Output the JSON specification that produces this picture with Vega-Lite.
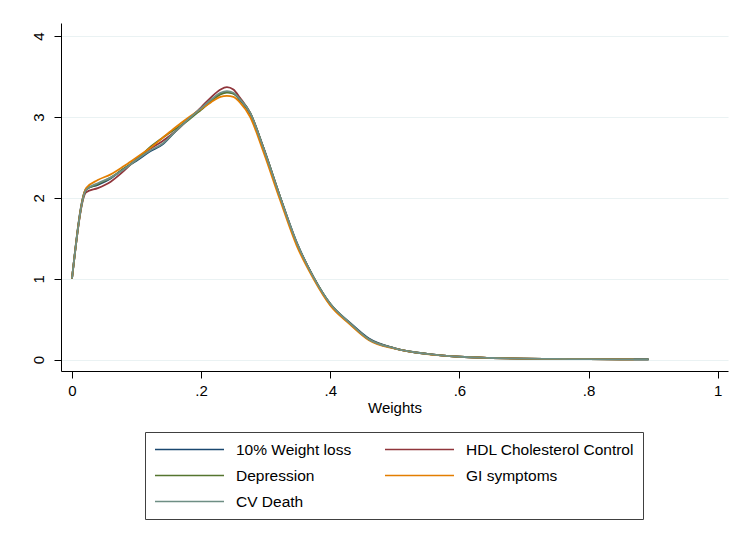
{
  "$schema": "https://vega.github.io/schema/vega-lite/v6.json",
  "autosize": {"type": "none"},
  "padding": {"left": 61, "top": 23, "right": 1, "bottom": 167},
  "width": 667,
  "height": 348,
  "background": "white",
  "config": {
    "font": "Liberation Sans",
    "view": {"stroke": null},
    "axis": {"labelFont": "Liberation Sans", "titleFont": "Liberation Sans", "labelColor": "#000", "titleColor": "#000", "domainColor": "#000", "tickColor": "#000", "labelFontSize": 15, "titleFontSize": 15, "titleFontWeight": "normal", "tickSize": 7, "domainWidth": 1, "tickWidth": 1}
  },
  "data": {"values": [
    {"x":0,"y":1.00,"s":"10% Weight loss"},{"x":0.022,"y":2.11,"s":"10% Weight loss"},{"x":0.04,"y":2.16,"s":"10% Weight loss"},{"x":0.06,"y":2.24,"s":"10% Weight loss"},{"x":0.08,"y":2.36,"s":"10% Weight loss"},{"x":0.1,"y":2.46,"s":"10% Weight loss"},{"x":0.12,"y":2.57,"s":"10% Weight loss"},{"x":0.14,"y":2.66,"s":"10% Weight loss"},{"x":0.16,"y":2.82,"s":"10% Weight loss"},{"x":0.18,"y":2.97,"s":"10% Weight loss"},{"x":0.2,"y":3.10,"s":"10% Weight loss"},{"x":0.215,"y":3.20,"s":"10% Weight loss"},{"x":0.23,"y":3.29,"s":"10% Weight loss"},{"x":0.24,"y":3.31,"s":"10% Weight loss"},{"x":0.25,"y":3.29,"s":"10% Weight loss"},{"x":0.26,"y":3.21,"s":"10% Weight loss"},{"x":0.276,"y":3.04,"s":"10% Weight loss"},{"x":0.296,"y":2.63,"s":"10% Weight loss"},{"x":0.322,"y":2.02,"s":"10% Weight loss"},{"x":0.348,"y":1.45,"s":"10% Weight loss"},{"x":0.374,"y":1.02,"s":"10% Weight loss"},{"x":0.4,"y":0.69,"s":"10% Weight loss"},{"x":0.43,"y":0.46,"s":"10% Weight loss"},{"x":0.46,"y":0.26,"s":"10% Weight loss"},{"x":0.5,"y":0.14,"s":"10% Weight loss"},{"x":0.55,"y":0.07,"s":"10% Weight loss"},{"x":0.6,"y":0.035,"s":"10% Weight loss"},{"x":0.65,"y":0.02,"s":"10% Weight loss"},{"x":0.7,"y":0.012,"s":"10% Weight loss"},{"x":0.75,"y":0.008,"s":"10% Weight loss"},{"x":0.8,"y":0.005,"s":"10% Weight loss"},{"x":0.85,"y":0.003,"s":"10% Weight loss"},{"x":0.893,"y":0.002,"s":"10% Weight loss"},
    {"x":0,"y":1.00,"s":"HDL Cholesterol Control"},{"x":0.022,"y":2.07,"s":"HDL Cholesterol Control"},{"x":0.04,"y":2.12,"s":"HDL Cholesterol Control"},{"x":0.06,"y":2.20,"s":"HDL Cholesterol Control"},{"x":0.08,"y":2.33,"s":"HDL Cholesterol Control"},{"x":0.1,"y":2.48,"s":"HDL Cholesterol Control"},{"x":0.12,"y":2.60,"s":"HDL Cholesterol Control"},{"x":0.14,"y":2.70,"s":"HDL Cholesterol Control"},{"x":0.16,"y":2.82,"s":"HDL Cholesterol Control"},{"x":0.18,"y":2.97,"s":"HDL Cholesterol Control"},{"x":0.2,"y":3.12,"s":"HDL Cholesterol Control"},{"x":0.215,"y":3.24,"s":"HDL Cholesterol Control"},{"x":0.23,"y":3.34,"s":"HDL Cholesterol Control"},{"x":0.24,"y":3.37,"s":"HDL Cholesterol Control"},{"x":0.25,"y":3.34,"s":"HDL Cholesterol Control"},{"x":0.26,"y":3.24,"s":"HDL Cholesterol Control"},{"x":0.276,"y":3.05,"s":"HDL Cholesterol Control"},{"x":0.296,"y":2.63,"s":"HDL Cholesterol Control"},{"x":0.322,"y":2.02,"s":"HDL Cholesterol Control"},{"x":0.348,"y":1.44,"s":"HDL Cholesterol Control"},{"x":0.374,"y":1.02,"s":"HDL Cholesterol Control"},{"x":0.4,"y":0.68,"s":"HDL Cholesterol Control"},{"x":0.43,"y":0.45,"s":"HDL Cholesterol Control"},{"x":0.46,"y":0.25,"s":"HDL Cholesterol Control"},{"x":0.5,"y":0.14,"s":"HDL Cholesterol Control"},{"x":0.55,"y":0.07,"s":"HDL Cholesterol Control"},{"x":0.6,"y":0.035,"s":"HDL Cholesterol Control"},{"x":0.65,"y":0.02,"s":"HDL Cholesterol Control"},{"x":0.7,"y":0.012,"s":"HDL Cholesterol Control"},{"x":0.75,"y":0.008,"s":"HDL Cholesterol Control"},{"x":0.8,"y":0.005,"s":"HDL Cholesterol Control"},{"x":0.85,"y":0.003,"s":"HDL Cholesterol Control"},{"x":0.893,"y":0.002,"s":"HDL Cholesterol Control"},
    {"x":0,"y":1.00,"s":"Depression"},{"x":0.022,"y":2.10,"s":"Depression"},{"x":0.04,"y":2.17,"s":"Depression"},{"x":0.06,"y":2.25,"s":"Depression"},{"x":0.08,"y":2.36,"s":"Depression"},{"x":0.1,"y":2.47,"s":"Depression"},{"x":0.12,"y":2.62,"s":"Depression"},{"x":0.14,"y":2.74,"s":"Depression"},{"x":0.16,"y":2.85,"s":"Depression"},{"x":0.18,"y":2.96,"s":"Depression"},{"x":0.2,"y":3.09,"s":"Depression"},{"x":0.215,"y":3.19,"s":"Depression"},{"x":0.23,"y":3.28,"s":"Depression"},{"x":0.24,"y":3.30,"s":"Depression"},{"x":0.25,"y":3.29,"s":"Depression"},{"x":0.26,"y":3.22,"s":"Depression"},{"x":0.276,"y":3.05,"s":"Depression"},{"x":0.296,"y":2.63,"s":"Depression"},{"x":0.322,"y":2.02,"s":"Depression"},{"x":0.348,"y":1.44,"s":"Depression"},{"x":0.374,"y":1.02,"s":"Depression"},{"x":0.4,"y":0.69,"s":"Depression"},{"x":0.43,"y":0.45,"s":"Depression"},{"x":0.46,"y":0.25,"s":"Depression"},{"x":0.5,"y":0.14,"s":"Depression"},{"x":0.55,"y":0.07,"s":"Depression"},{"x":0.6,"y":0.035,"s":"Depression"},{"x":0.65,"y":0.02,"s":"Depression"},{"x":0.7,"y":0.012,"s":"Depression"},{"x":0.75,"y":0.008,"s":"Depression"},{"x":0.8,"y":0.005,"s":"Depression"},{"x":0.85,"y":0.003,"s":"Depression"},{"x":0.893,"y":0.002,"s":"Depression"},
    {"x":0,"y":1.00,"s":"GI symptoms"},{"x":0.022,"y":2.12,"s":"GI symptoms"},{"x":0.04,"y":2.22,"s":"GI symptoms"},{"x":0.06,"y":2.29,"s":"GI symptoms"},{"x":0.08,"y":2.39,"s":"GI symptoms"},{"x":0.1,"y":2.50,"s":"GI symptoms"},{"x":0.12,"y":2.61,"s":"GI symptoms"},{"x":0.14,"y":2.74,"s":"GI symptoms"},{"x":0.16,"y":2.87,"s":"GI symptoms"},{"x":0.18,"y":2.99,"s":"GI symptoms"},{"x":0.2,"y":3.10,"s":"GI symptoms"},{"x":0.215,"y":3.18,"s":"GI symptoms"},{"x":0.23,"y":3.25,"s":"GI symptoms"},{"x":0.24,"y":3.26,"s":"GI symptoms"},{"x":0.25,"y":3.25,"s":"GI symptoms"},{"x":0.26,"y":3.18,"s":"GI symptoms"},{"x":0.276,"y":3.00,"s":"GI symptoms"},{"x":0.296,"y":2.58,"s":"GI symptoms"},{"x":0.322,"y":1.98,"s":"GI symptoms"},{"x":0.348,"y":1.41,"s":"GI symptoms"},{"x":0.374,"y":1.00,"s":"GI symptoms"},{"x":0.4,"y":0.67,"s":"GI symptoms"},{"x":0.43,"y":0.44,"s":"GI symptoms"},{"x":0.46,"y":0.24,"s":"GI symptoms"},{"x":0.5,"y":0.135,"s":"GI symptoms"},{"x":0.55,"y":0.068,"s":"GI symptoms"},{"x":0.6,"y":0.035,"s":"GI symptoms"},{"x":0.65,"y":0.02,"s":"GI symptoms"},{"x":0.7,"y":0.012,"s":"GI symptoms"},{"x":0.75,"y":0.008,"s":"GI symptoms"},{"x":0.8,"y":0.005,"s":"GI symptoms"},{"x":0.85,"y":0.003,"s":"GI symptoms"},{"x":0.87,"y":0.002,"s":"GI symptoms"},
    {"x":0,"y":1.00,"s":"CV Death"},{"x":0.022,"y":2.10,"s":"CV Death"},{"x":0.04,"y":2.18,"s":"CV Death"},{"x":0.06,"y":2.25,"s":"CV Death"},{"x":0.08,"y":2.35,"s":"CV Death"},{"x":0.1,"y":2.47,"s":"CV Death"},{"x":0.12,"y":2.58,"s":"CV Death"},{"x":0.14,"y":2.67,"s":"CV Death"},{"x":0.16,"y":2.82,"s":"CV Death"},{"x":0.18,"y":2.97,"s":"CV Death"},{"x":0.2,"y":3.11,"s":"CV Death"},{"x":0.215,"y":3.21,"s":"CV Death"},{"x":0.23,"y":3.30,"s":"CV Death"},{"x":0.24,"y":3.32,"s":"CV Death"},{"x":0.25,"y":3.30,"s":"CV Death"},{"x":0.26,"y":3.22,"s":"CV Death"},{"x":0.276,"y":3.05,"s":"CV Death"},{"x":0.296,"y":2.63,"s":"CV Death"},{"x":0.322,"y":2.02,"s":"CV Death"},{"x":0.348,"y":1.45,"s":"CV Death"},{"x":0.374,"y":1.02,"s":"CV Death"},{"x":0.4,"y":0.69,"s":"CV Death"},{"x":0.43,"y":0.455,"s":"CV Death"},{"x":0.46,"y":0.25,"s":"CV Death"},{"x":0.5,"y":0.14,"s":"CV Death"},{"x":0.55,"y":0.07,"s":"CV Death"},{"x":0.6,"y":0.035,"s":"CV Death"},{"x":0.65,"y":0.02,"s":"CV Death"},{"x":0.7,"y":0.012,"s":"CV Death"},{"x":0.75,"y":0.008,"s":"CV Death"},{"x":0.8,"y":0.005,"s":"CV Death"},{"x":0.85,"y":0.003,"s":"CV Death"},{"x":0.893,"y":0.002,"s":"CV Death"}
  ]},
  "mark": {"type": "line", "interpolate": "monotone", "strokeWidth": 1.8},
  "encoding": {
    "x": {"field": "x", "type": "quantitative", "title": "Weights",
      "scale": {"domain": [-0.017, 1.016], "nice": false, "zero": false},
      "axis": {"values": [0, 0.2, 0.4, 0.6, 0.8, 1], "grid": false, "labelExpr": "replace(toString(datum.value), '0.', '.')", "labelPadding": 5, "titlePadding": 2, "labelFlush": false}},
    "y": {"field": "y", "type": "quantitative", "title": null,
      "scale": {"domain": [-0.141, 4.162], "nice": false, "zero": false},
      "axis": {"values": [0, 1, 2, 3, 4], "grid": true, "gridColor": "#EAF2F3", "gridWidth": 1.2, "labelAngle": -90, "labelAlign": "center", "labelBaseline": "bottom", "labelPadding": 8, "labelFlush": false}},
    "color": {"field": "s", "type": "nominal",
      "scale": {"domain": ["10% Weight loss", "HDL Cholesterol Control", "Depression", "GI symptoms", "CV Death"], "range": ["#1a476f", "#90353b", "#55752f", "#e37e00", "#6e8e84"]},
      "legend": {"title": null, "orient": "none", "direction": "horizontal", "legendX": 84, "legendY": 409, "columns": 2, "symbolType": "M-1,0H8.2", "symbolSize": 225, "symbolStrokeWidth": 1.5, "labelFontSize": 15.5, "labelFont": "Liberation Sans", "labelColor": "#000", "strokeColor": "#404040", "fillColor": "white", "padding": 9, "rowPadding": 9, "columnPadding": 30, "labelOffset": 65, "labelLimit": 300}}
  }
}
